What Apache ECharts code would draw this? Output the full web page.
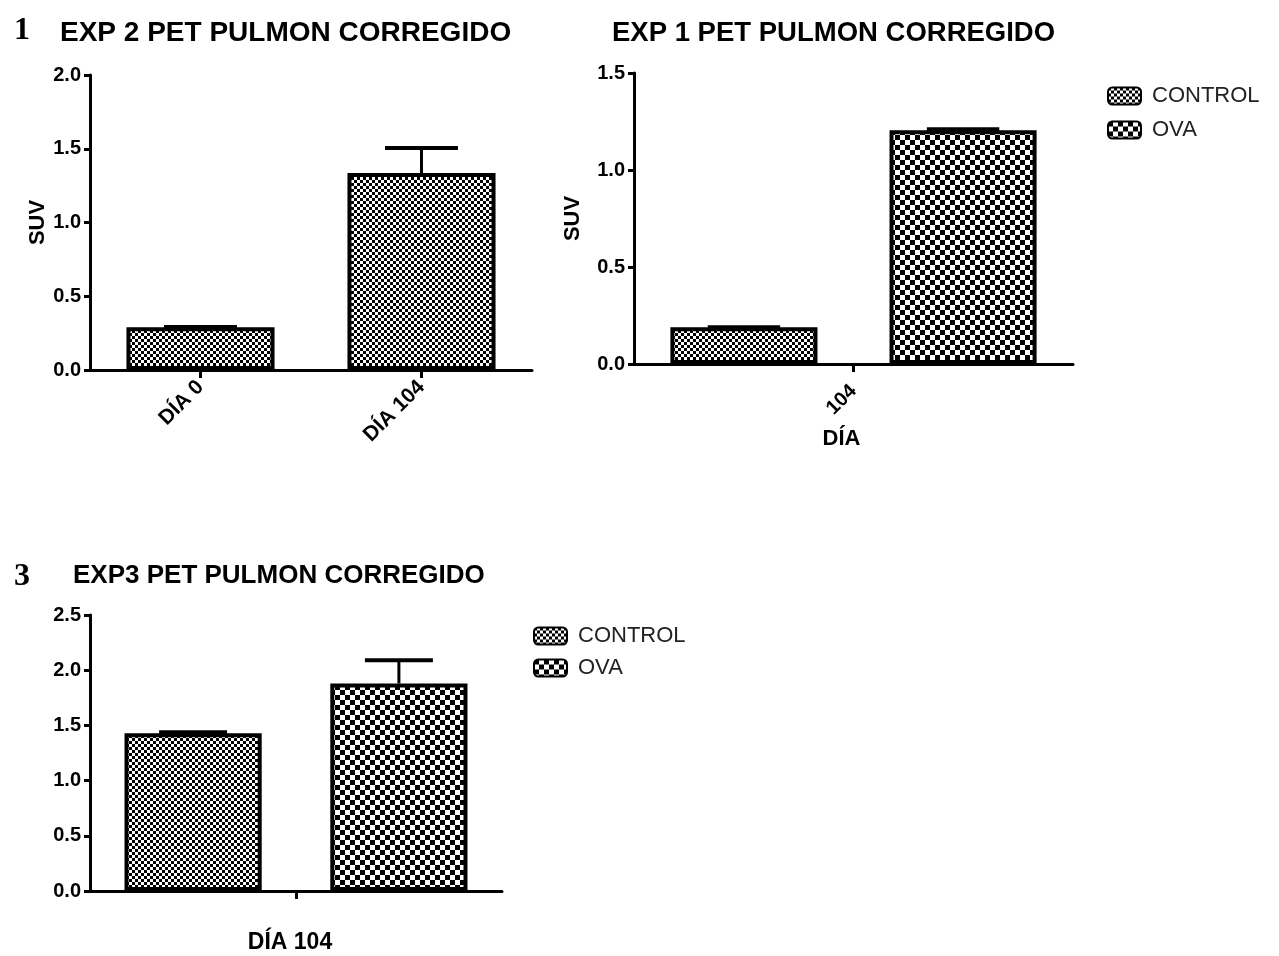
<!DOCTYPE html>
<html>
<head>
<meta charset="utf-8">
<script src="https://cdn.jsdelivr.net/npm/echarts@6/dist/echarts.min.js"></script>
<style>
html,body{margin:0;padding:0;background:#fff;}
#main{width:1279px;height:956px;}
</style>
</head>
<body>
<div id="main"></div>
<script>
// ---------- DATA ----------
const exp2Categories = ['DÍA 0', 'DÍA 104'];
const exp2Values = [0.29, 1.335];
const exp2Errors = [0.002, 0.17];

const exp1Category = ['104'];
const exp1Groups = ['CONTROL', 'OVA'];
const exp1Values = [0.19, 1.205];
const exp1Errors = [0.0, 0.005];

const exp3Category = ['DÍA 104'];
const exp3Groups = ['CONTROL', 'OVA'];
const exp3Values = [1.43, 1.88];
const exp3Errors = [0.008, 0.21];

const exp2Ticks = {min: 0, max: 2.0, interval: 0.5};
const exp1Ticks = {min: 0, max: 1.5, interval: 0.5};
const exp3Ticks = {min: 0, max: 2.5, interval: 0.5};

// ---------- PATTERNS ----------
function checker(size) {
  const c = document.createElement('canvas');
  c.width = size * 2; c.height = size * 2;
  const g = c.getContext('2d');
  g.fillStyle = '#fff'; g.fillRect(0, 0, c.width, c.height);
  g.fillStyle = '#000';
  g.fillRect(0, 0, size, size);
  g.fillRect(size, size, size, size);
  return {image: c, repeat: 'repeat'};
}
const fine = checker(3);
const coarse = checker(5);

const bold = 'bold';
const ff = 'Liberation Sans, Arial, sans-serif';

function yAxis(gi, t, name, gap) {
  return {
    type: 'value', gridIndex: gi, min: t.min, max: t.max, interval: t.interval,
    name: name || '', nameLocation: 'middle', nameGap: gap || 46, nameRotate: 90,
    nameTextStyle: {fontFamily: ff, fontWeight: bold, fontSize: 22, color: '#000'},
    axisLine: {show: true, lineStyle: {color: '#000', width: 3}},
    axisTick: {show: true, length: 6, lineStyle: {color: '#000', width: 3}},
    axisLabel: {fontFamily: ff, fontWeight: bold, fontSize: 20, color: '#000', margin: 9,
      formatter: v => v.toFixed(1)},
    splitLine: {show: false}
  };
}
function xAxis(gi, cats, extra) {
  return Object.assign({
    type: 'category', gridIndex: gi, data: cats, boundaryGap: true,
    axisLine: {show: true, onZero: false, lineStyle: {color: '#000', width: 3}},
    axisTick: {show: true, alignWithLabel: true, length: 8, lineStyle: {color: '#000', width: 3}},
    axisLabel: {fontFamily: ff, fontWeight: bold, fontSize: 20, color: '#000'},
    splitLine: {show: false}
  }, extra || {});
}

function errSeries(xi, yi, data, capFrac, offsetFn) {
  return {
    type: 'custom', xAxisIndex: xi, yAxisIndex: yi, silent: true, z: 1,
    data: data,
    renderItem: function (params, api) {
      const cat = api.value(0), v = api.value(1), e = api.value(2), k = api.value(3);
      const band = api.size([1, 0])[0];
      const off = offsetFn ? offsetFn(band, k) : 0;
      const p0 = api.coord([cat, v]);
      const p1 = api.coord([cat, v + e]);
      const x = p0[0] + off;
      const half = band * capFrac / 2;
      return {
        type: 'group',
        children: [
          {type: 'line', shape: {x1: x, y1: p0[1], x2: x, y2: p1[1]}, style: {stroke: '#000', lineWidth: 3}},
          {type: 'line', shape: {x1: x - half, y1: p1[1], x2: x + half, y2: p1[1]}, style: {stroke: '#000', lineWidth: 4}}
        ]
      };
    }
  };
}

const barStyle = (fill) => ({color: fill, borderColor: '#000', borderWidth: 4});

const option = {
  backgroundColor: '#fff',
  animation: false,
  title: [
    {text: '1', left: 9, top: 10, textStyle: {fontFamily: 'Liberation Serif', fontWeight: 'bold', fontSize: 32, color: '#000'}},
    {text: 'EXP 2 PET PULMON CORREGIDO', left: 55, top: 14, textStyle: {fontFamily: ff, fontWeight: 'bold', fontSize: 28, color: '#000'}},
    {text: 'EXP 1 PET PULMON CORREGIDO', left: 607, top: 14, textStyle: {fontFamily: ff, fontWeight: 'bold', fontSize: 27.5, color: '#000'}},
    {text: '3', left: 9, top: 556, textStyle: {fontFamily: 'Liberation Serif', fontWeight: 'bold', fontSize: 32, color: '#000'}},
    {text: 'EXP3 PET PULMON CORREGIDO', left: 68, top: 558, textStyle: {fontFamily: ff, fontWeight: 'bold', fontSize: 26, color: '#000'}}
  ],
  legend: [
    {data: exp1Groups, orient: 'vertical', left: 1102, top: 80, itemWidth: 33, itemHeight: 17, itemGap: 12,
      textStyle: {fontFamily: ff, fontSize: 22, color: '#222', padding: [0, 0, 0, 6]}, selectedMode: false},
    {data: exp3Groups, orient: 'vertical', left: 528, top: 620, itemWidth: 33, itemHeight: 17, itemGap: 10,
      textStyle: {fontFamily: ff, fontSize: 22, color: '#222', padding: [0, 0, 0, 6]}, selectedMode: false}
  ],
  grid: [
    {left: 90, top: 75, width: 442, height: 295},
    {left: 634, top: 73, width: 439, height: 291},
    {left: 90, top: 615, width: 412, height: 276}
  ],
  xAxis: [
    xAxis(0, exp2Categories, {axisLabel: {fontFamily: ff, fontWeight: bold, fontSize: 21, color: '#000', rotate: 45, margin: 14}}),
    xAxis(1, exp1Category, {name: 'DÍA', nameLocation: 'middle', nameGap: 64,
      nameTextStyle: {fontFamily: ff, fontWeight: bold, fontSize: 22, color: '#000', padding: [0, 24, 0, 0]},
      axisLabel: {fontFamily: ff, fontWeight: bold, fontSize: 20, color: '#000', rotate: 45, margin: 24}}),
    xAxis(2, exp3Category, {axisLabel: {fontFamily: ff, fontWeight: bold, fontSize: 23, color: '#000', margin: 40, padding: [0, 12, 0, 0]}})
  ],
  yAxis: [
    yAxis(0, exp2Ticks, 'SUV', 40),
    yAxis(1, exp1Ticks, 'SUV', 50),
    yAxis(2, exp3Ticks, '', 46)
  ],
  series: [
    {type: 'bar', name: 'EXP2', xAxisIndex: 0, yAxisIndex: 0, data: exp2Values, barWidth: '67%',
      itemStyle: barStyle(fine), z: 2},
    errSeries(0, 0, exp2Values.map((v, i) => [i, v, exp2Errors[i], 0]), 0.33, null),

    {type: 'bar', name: exp1Groups[0], xAxisIndex: 1, yAxisIndex: 1, data: [exp1Values[0]], barWidth: '33.5%', barGap: '49%',
      itemStyle: barStyle(fine), z: 2},
    {type: 'bar', name: exp1Groups[1], xAxisIndex: 1, yAxisIndex: 1, data: [exp1Values[1]], barWidth: '33.5%', barGap: '49%',
      itemStyle: barStyle(coarse), z: 2},
    errSeries(1, 1, exp1Values.map((v, k) => [0, v, exp1Errors[k], k]), 0.165,
      (band, k) => (k === 0 ? -1 : 1) * band * 0.335 * 1.49 / 2),

    {type: 'bar', name: exp3Groups[0], xAxisIndex: 2, yAxisIndex: 2, data: [exp3Values[0]], barWidth: '33.3%', barGap: '50%',
      itemStyle: barStyle(fine), z: 2},
    {type: 'bar', name: exp3Groups[1], xAxisIndex: 2, yAxisIndex: 2, data: [exp3Values[1]], barWidth: '33.3%', barGap: '50%',
      itemStyle: barStyle(coarse), z: 2},
    errSeries(2, 2, exp3Values.map((v, k) => [0, v, exp3Errors[k], k]), 0.165,
      (band, k) => (k === 0 ? -1 : 1) * band * 0.333 * 1.5 / 2)
  ]
};

const chart = echarts.init(document.getElementById('main'), null, {renderer: 'canvas'});
chart.setOption(option);
</script>
</body>
</html>
